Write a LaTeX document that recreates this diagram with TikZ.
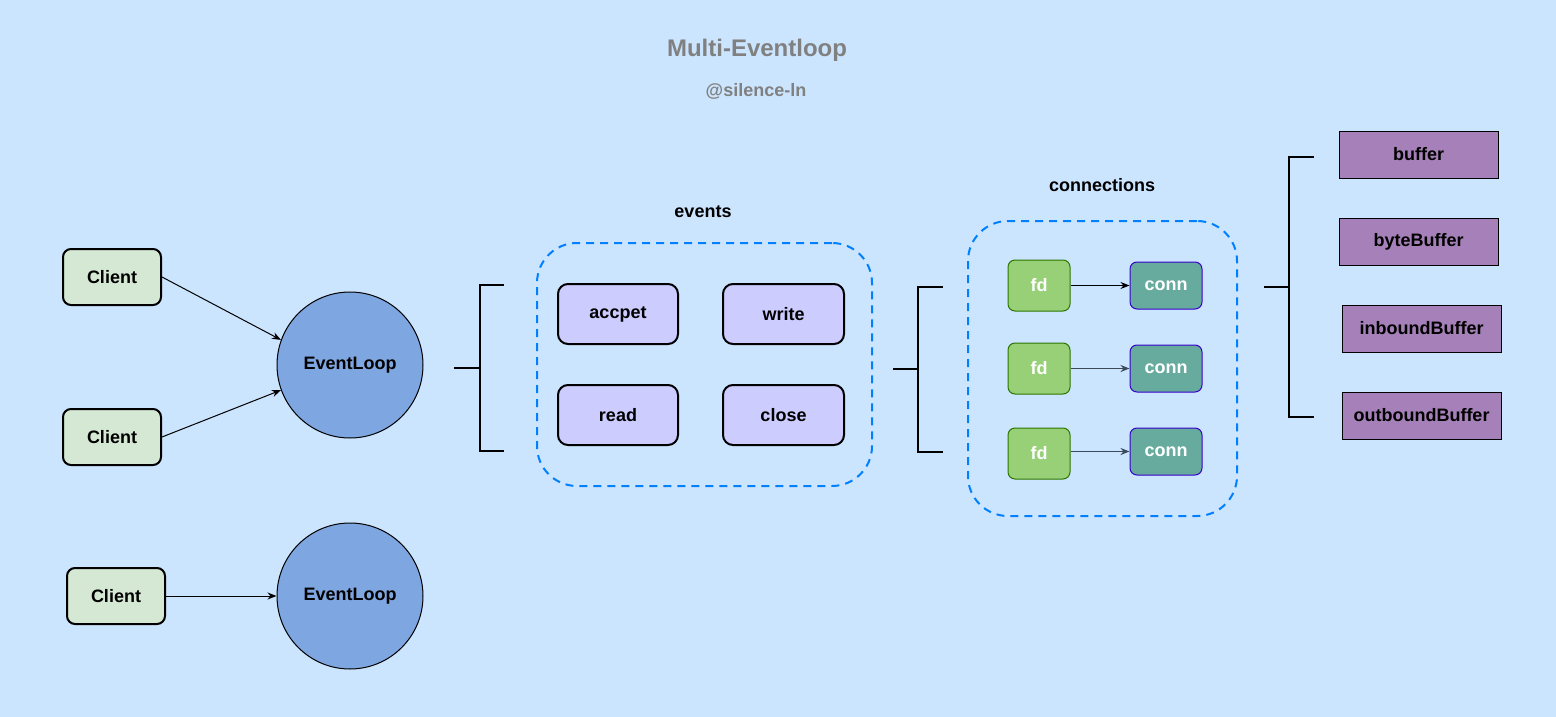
\documentclass[tikz,border=0pt]{standalone}
\usepackage{fontspec}
\setmainfont{Liberation Sans}
\usetikzlibrary{arrows.meta}
\definecolor{bg}{HTML}{CCE5FF}
\definecolor{titlegray}{HTML}{808080}
\definecolor{clientfill}{HTML}{D5E8D4}
\definecolor{loopfill}{HTML}{7EA6E0}
\definecolor{evfill}{HTML}{CCCCFF}
\definecolor{dashblue}{HTML}{007FFF}
\definecolor{fdfill}{HTML}{97D077}
\definecolor{fdline}{HTML}{2D7600}
\definecolor{connfill}{HTML}{67AB9F}
\definecolor{connline}{HTML}{3700CC}
\definecolor{buffill}{HTML}{A680B8}
\definecolor{arrgray}{HTML}{3C4A5A}
\tikzset{
  txt/.style={font=\fontsize{18}{22}\selectfont\bfseries, text=black},
  clientbox/.style={txt, draw=black, line width=2pt, fill=clientfill, rounded corners=8pt, minimum width=98pt, minimum height=56pt, inner sep=0pt},
  loopnode/.style={txt, circle, draw=black, line width=1pt, fill=loopfill, minimum size=146pt, inner sep=0pt},
  evbox/.style={txt, draw=black, line width=2pt, fill=evfill, rounded corners=10pt, minimum width=120pt, minimum height=60pt, inner sep=0pt},
  groupbox/.style={draw=dashblue, dash pattern=on 8pt off 6pt, line width=2pt, rounded corners=40pt, inner sep=0pt},
  fdbox/.style={txt, text=white, draw=fdline, line width=1pt, fill=fdfill, rounded corners=7pt, minimum width=62pt, minimum height=51pt, inner sep=0pt},
  connbox/.style={txt, text=white, draw=connline, line width=1pt, fill=connfill, rounded corners=7pt, minimum width=72pt, minimum height=47pt, inner sep=0pt},
  bufbox/.style={txt, draw=black, line width=1pt, fill=buffill, minimum width=159pt, minimum height=47pt, inner sep=0pt},
  arr/.style={-{Stealth[length=9pt,width=7pt]}, line width=1pt, draw=black},
  brk/.style={line width=2pt, draw=black},
  lbl/.style={txt}
}
\begin{document}
\begin{tikzpicture}[x=1pt,y=-1pt]
\fill[bg] (0,0) rectangle (1556,717);
\useasboundingbox (0,0) rectangle (1556,717);

\node[font=\fontsize{24}{28}\selectfont\bfseries, text=titlegray] (title) at (757,50) {Multi-Eventloop};
\node[font=\fontsize{18}{22}\selectfont\bfseries, text=titlegray] (author) at (756,91) {@silence-ln};

% clients and loops
\node[clientbox] (c1) at (112,277) {Client};
\node[clientbox] (c2) at (112,437) {Client};
\node[clientbox] (c3) at (116,596) {Client};
\node[loopnode] (el1) at (350,365) {EventLoop};
\node[loopnode] (el2) at (350,596) {EventLoop};
\draw[arr] (c1.east) -- (el1.160);
\draw[arr] (c2.east) -- (el1.200);
\draw[arr] (c3.east) -- (el2.west);

% bracket 1
\coordinate (b1s) at (454,368);
\coordinate (b1m) at (480,368);
\coordinate (b1t) at (504,285);
\coordinate (b1b) at (504,451);
\draw[brk] (b1s) -- (b1m);
\draw[brk] (b1t) -- (480,285) -- (480,451) -- (b1b);

% events
\node[lbl] (evlbl) at (703,212) {events};
\node[groupbox, minimum width=335pt, minimum height=243pt] (evgrp) at (704.5,364.5) {};
\node[evbox] (acc) at (618,314) {accpet};
\node[evbox, minimum width=121pt] (wr) at (783.5,314) {write};
\node[evbox] (rd) at (618,415) {read};
\node[evbox, minimum width=121pt] (cl) at (783.5,415) {close};

% bracket 2
\coordinate (b2s) at (893,369);
\coordinate (b2m) at (918,369);
\coordinate (b2t) at (943,287);
\coordinate (b2b) at (943,452);
\draw[brk] (b2s) -- (b2m);
\draw[brk] (b2t) -- (918,287) -- (918,452) -- (b2b);

% connections
\node[lbl] (cnlbl) at (1102,185) {connections};
\node[groupbox, minimum width=269pt, minimum height=295pt] (cngrp) at (1102.5,368.5) {};
\node[fdbox] (fd1) at (1039,285.5) {fd};
\node[fdbox] (fd2) at (1039,368.5) {fd};
\node[fdbox] (fd3) at (1039,453.5) {fd};
\node[connbox] (cn1) at (1166,285.5) {conn};
\node[connbox] (cn2) at (1166,368.5) {conn};
\node[connbox] (cn3) at (1166,451.5) {conn};
\draw[arr] (fd1.east) -- (cn1.west);
\draw[arr, draw=arrgray, line width=1.5pt] (fd2.east) -- (cn2.west);
\draw[arr, draw=arrgray, line width=1.5pt] (fd3.east |- cn3.west) -- (cn3.west);

% bracket 3
\coordinate (b3s) at (1264,287);
\coordinate (b3m) at (1289,287);
\coordinate (b3t) at (1314,157);
\coordinate (b3b) at (1314,417);
\draw[brk] (b3s) -- (b3m);
\draw[brk] (b3t) -- (1289,157) -- (1289,417) -- (b3b);

% buffers
\node[bufbox] (buf) at (1418.5,154.5) {buffer};
\node[bufbox] (bbuf) at (1418.5,241.5) {byteBuffer};
\node[bufbox] (ibuf) at (1421.5,328.5) {inboundBuffer};
\node[bufbox] (obuf) at (1421.5,415.5) {outboundBuffer};
\end{tikzpicture}
\end{document}
